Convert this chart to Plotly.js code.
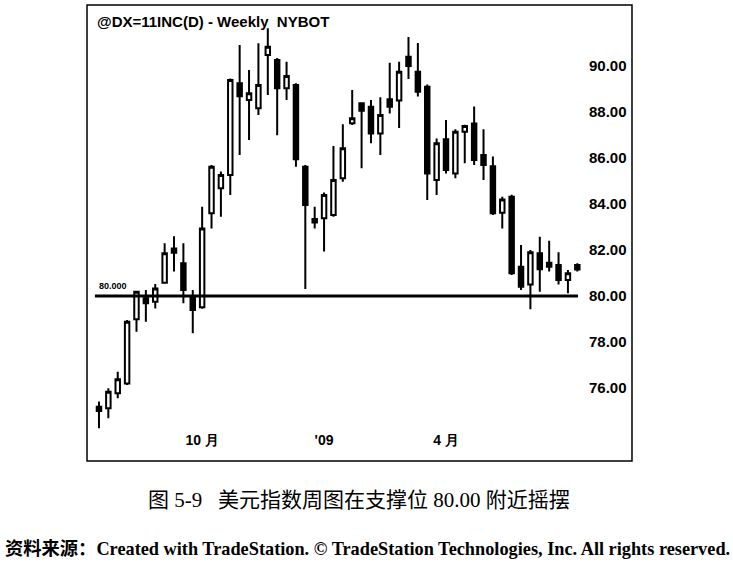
<!DOCTYPE html>
<html>
<head>
<meta charset="utf-8">
<script src="https://cdn.plot.ly/plotly-3.0.1.min.js"></script>
<style>
  html, body { margin: 0; padding: 0; background: #fff; }
  #chart { width: 733px; height: 562px; }
</style>
</head>
<body>
<div id="chart"></div>
<script>
// Weekly bars (Friday dates), @DX weekly, NYBOT
const weeks = [
  '2008-07-18','2008-07-25','2008-08-01','2008-08-08','2008-08-15','2008-08-22','2008-08-29',
  '2008-09-05','2008-09-12','2008-09-19','2008-09-26','2008-10-03','2008-10-10','2008-10-17',
  '2008-10-24','2008-10-31','2008-11-07','2008-11-14','2008-11-21','2008-11-28','2008-12-05',
  '2008-12-12','2008-12-19','2008-12-26','2009-01-02','2009-01-09','2009-01-16','2009-01-23',
  '2009-01-30','2009-02-06','2009-02-13','2009-02-20','2009-02-27','2009-03-06','2009-03-13',
  '2009-03-20','2009-03-27','2009-04-03','2009-04-10','2009-04-17','2009-04-24','2009-05-01',
  '2009-05-08','2009-05-15','2009-05-22','2009-05-29','2009-06-05','2009-06-12','2009-06-19',
  '2009-06-26','2009-07-03','2009-07-10'
];
const openVals = [
  75.19, 75.12, 75.77, 76.20, 78.99, 79.90, 79.75, 80.58, 82.07, 81.42,
  79.94, 79.51, 83.60, 84.68, 85.26, 89.25, 88.52, 88.16, 90.48, 90.26,
  89.03, 89.17, 85.62, 83.35, 83.38, 83.52, 85.12, 87.51, 88.38, 88.23,
  87.07, 88.55, 88.50, 90.40, 89.75, 89.10, 85.04, 86.81, 85.33, 87.14,
  87.50, 86.13, 85.64, 83.62, 84.32, 81.27, 80.50, 81.86, 81.45, 81.35,
  80.70, 81.35
];
const highVals = [
  75.41, 75.99, 76.71, 78.96, 80.23, 80.26, 80.52, 82.29, 82.60, 82.29,
  80.26, 83.88, 85.70, 85.41, 89.46, 90.91, 89.83, 90.99, 91.64, 90.35,
  90.19, 89.25, 85.70, 83.88, 84.50, 86.52, 87.47, 88.96, 88.40, 88.52,
  88.64, 90.14, 90.19, 91.26, 91.00, 89.20, 86.85, 87.65, 87.25, 87.45,
  88.24, 87.25, 86.06, 84.32, 84.40, 82.22, 82.00, 82.58, 82.40, 81.90,
  81.13, 81.42
];
const lowVals = [
  74.25, 74.68, 75.55, 76.13, 78.45, 78.88, 79.46, 80.55, 81.06, 79.68,
  78.38, 79.45, 82.94, 83.45, 84.39, 86.13, 86.78, 87.87, 88.74, 86.99,
  88.52, 85.62, 80.30, 82.94, 81.93, 83.45, 84.97, 87.43, 85.55, 86.64,
  86.13, 87.94, 87.30, 89.44, 88.67, 84.17, 84.39, 85.33, 85.12, 85.77,
  85.70, 85.04, 83.52, 82.94, 80.91, 80.26, 79.42, 80.19, 81.06, 80.50,
  80.12, 81.06
];
const closeVals = [
  75.00, 75.84, 76.38, 78.88, 80.19, 79.68, 80.33, 81.86, 81.88, 80.26,
  79.39, 82.94, 85.62, 85.26, 89.39, 88.68, 88.81, 89.17, 90.84, 89.03,
  89.57, 85.95, 83.96, 83.20, 84.39, 85.04, 86.42, 87.73, 88.05, 87.07,
  87.87, 88.23, 89.75, 90.00, 88.88, 85.33, 86.64, 85.48, 87.14, 87.39,
  85.91, 85.70, 83.60, 84.20, 80.99, 80.40, 81.90, 81.16, 81.27, 80.70,
  80.99, 81.15
];
const supportLevel = 80;
const supportLabel = '80.000';
const yTickVals = [76, 78, 80, 82, 84, 86, 88, 90];
const yTickText = ['76.00', '78.00', '80.00', '82.00', '84.00', '86.00', '88.00', '90.00'];
const xTickWeeks = ['2008-10-03', '2009-01-02', '2009-04-03'];
const xTickText = ['10 月', "'09", '4 月'];
const chartTitle = '@DX=11INC(D) - Weekly  NYBOT';
const captionText = '图 5-9&#160;&#160;&#160;美元指数周图在支撑位 80.00 附近摇摆';
const sourceText = '资料来源：Created with TradeStation. © TradeStation Technologies, Inc. All rights reserved.';

const trace = {
  type: 'candlestick',
  x: weeks,
  open: openVals,
  high: highVals,
  low: lowVals,
  close: closeVals,
  whiskerwidth: 0,
  increasing: { line: { color: '#000', width: 2 }, fillcolor: '#ffffff' },
  decreasing: { line: { color: '#000', width: 2 }, fillcolor: '#000000' },
  hoverinfo: 'none',
  showlegend: false
};

const boldSans = { family: 'Liberation Sans, Arial, sans-serif', color: '#000', weight: 'bold' };

const layout = {
  width: 733,
  height: 562,
  margin: { l: 88, r: 151, t: 10, b: 132 },
  paper_bgcolor: '#fff',
  plot_bgcolor: '#fff',
  showlegend: false,
  boxgap: 0.32,
  title: {
    text: chartTitle,
    font: Object.assign({ size: 15 }, boldSans),
    xref: 'container', x: 97 / 733, xanchor: 'left',
    yref: 'container', y: 1 - 22 / 562, yanchor: 'middle'
  },
  xaxis: {
    type: 'category',
    range: [-1.17, 51.5],
    rangeslider: { visible: false },
    showgrid: false, zeroline: false, showline: false,
    ticks: '',
    tickvals: xTickWeeks,
    ticktext: xTickText,
    tickangle: 0,
    tickfont: Object.assign({ size: 14 }, boldSans),
    fixedrange: true
  },
  yaxis: {
    side: 'right',
    range: [74.174, 92.435],
    showgrid: false, zeroline: false, showline: false,
    ticks: '',
    ticklabelstandoff: 6,
    tickvals: yTickVals,
    ticktext: yTickText,
    tickfont: Object.assign({ size: 15 }, boldSans),
    fixedrange: true
  },
  shapes: [
    { type: 'rect', xref: 'paper', yref: 'paper',
      x0: -0.002, x1: 1.1012, y0: -0.0738, y1: 1.0119,
      line: { color: '#000', width: 1.5 }, fillcolor: 'rgba(0,0,0,0)', layer: 'below' },
    { type: 'line', xref: 'paper', yref: 'y',
      x0: 0.014, x1: 0.992, y0: supportLevel, y1: supportLevel,
      line: { color: '#000', width: 3 }, layer: 'above' }
  ],
  annotations: [
    { text: supportLabel, xref: 'paper', yref: 'y', x: 0.018, y: supportLevel,
      xanchor: 'left', yanchor: 'bottom', yshift: 3, showarrow: false,
      font: Object.assign({ size: 9 }, boldSans) },
    { text: captionText, xref: 'paper', yref: 'paper', x: (146 - 88) / 494, y: (430 - 500) / 420,
      xanchor: 'left', yanchor: 'middle', showarrow: false,
      font: { family: 'Liberation Serif, Noto Sans CJK SC, serif', size: 21, color: '#000' } },
    { text: sourceText, xref: 'paper', yref: 'paper', x: (3 - 88) / 494, y: (430 - 549) / 420,
      xanchor: 'left', yanchor: 'middle', showarrow: false,
      font: { family: 'Liberation Serif, Noto Sans CJK SC, serif', size: 18.3, color: '#000', weight: 'bold' } }
  ]
};

Plotly.newPlot('chart', [trace], layout, { staticPlot: true, displayModeBar: false });
</script>
</body>
</html>
